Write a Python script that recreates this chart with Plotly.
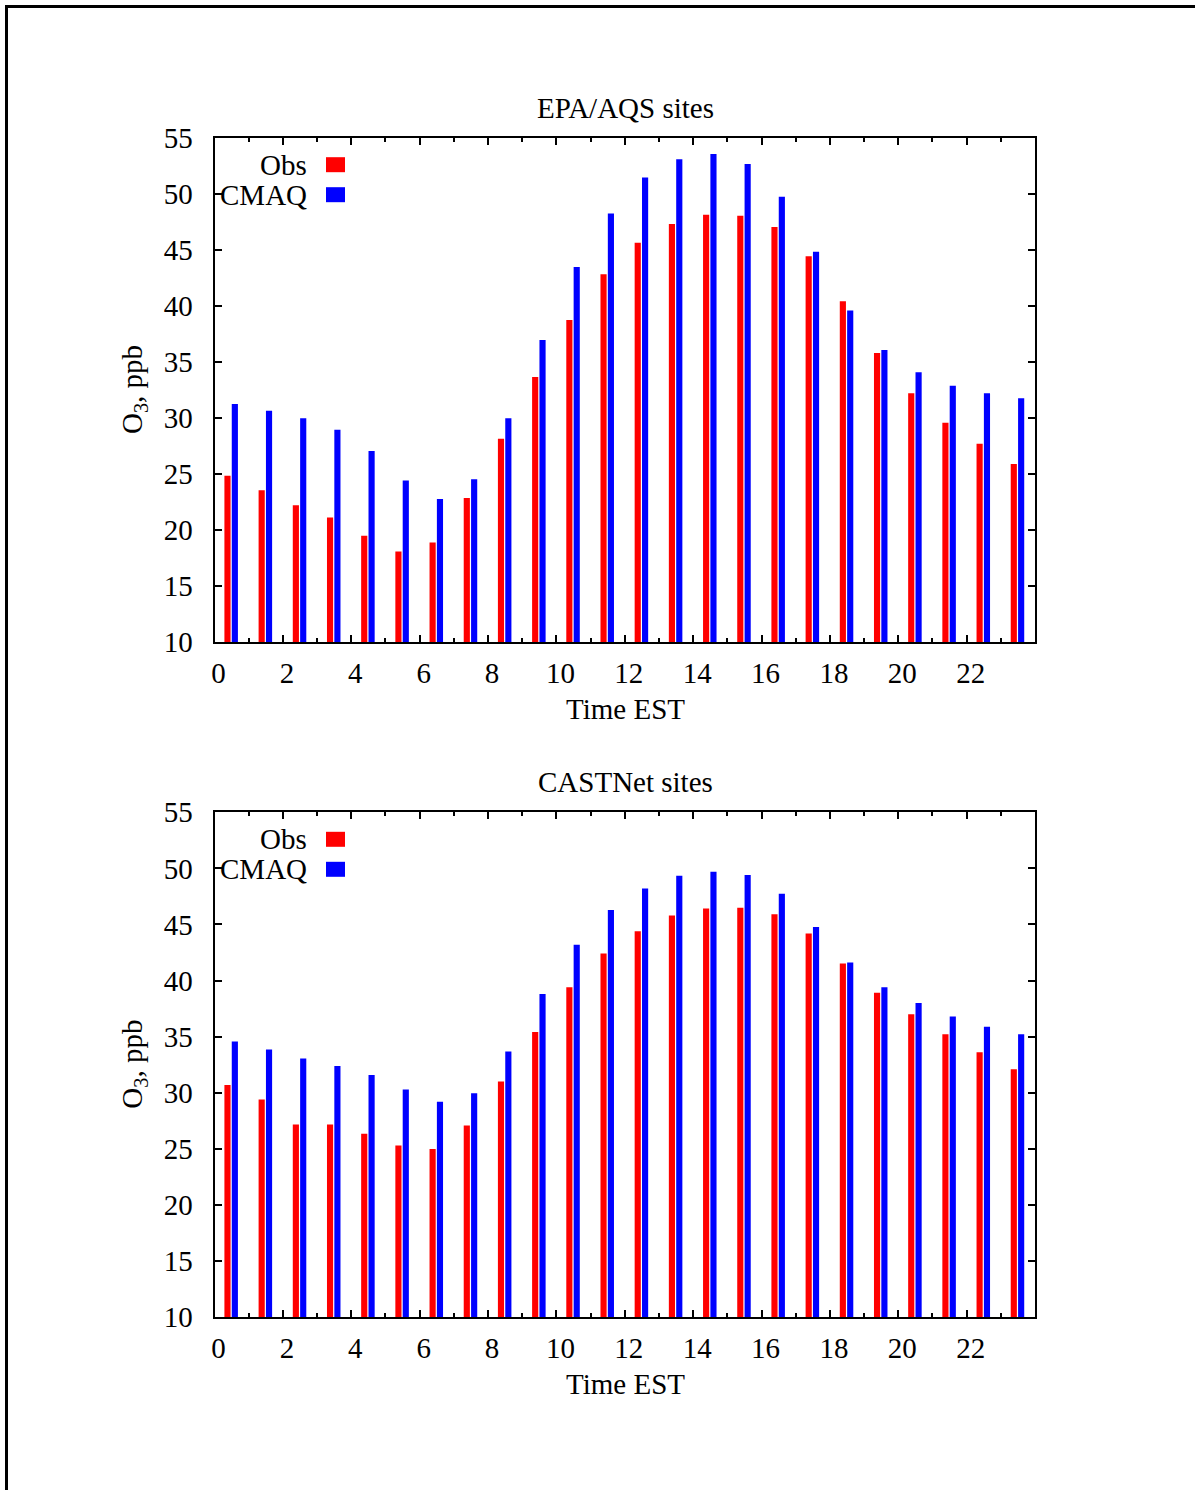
import plotly.graph_objects as go

W, H = 1195, 1490

hours = list(range(24))
tick_vals = list(range(0, 24, 2))
tick_text = [str(v) for v in tick_vals]
y_ticks = list(range(10, 56, 5))

epa_obs = [24.85, 23.57, 22.23, 21.13, 19.5, 18.1, 18.9, 22.86, 28.15, 33.66, 38.75, 42.83,
           45.63, 47.3, 48.13, 48.04, 47.03, 44.43, 40.42, 35.8, 32.2, 29.58, 27.7, 25.9]
epa_cmaq = [31.25, 30.65, 29.97, 28.96, 27.05, 24.43, 22.77, 24.55, 29.97, 36.96, 43.48, 48.24,
            51.46, 53.07, 53.54, 52.65, 49.73, 44.82, 39.58, 36.07, 34.08, 32.89, 32.2, 31.76]

cast_obs = [30.68, 29.4, 27.17, 27.17, 26.34, 25.3, 24.97, 27.08, 31.0, 35.4, 39.4, 42.42,
            44.4, 45.8, 46.42, 46.5, 45.92, 44.2, 41.52, 38.9, 37.0, 35.2, 33.6, 32.08]
cast_cmaq = [34.57, 33.86, 33.05, 32.37, 31.57, 30.29, 29.19, 29.96, 33.68, 38.8, 43.2, 46.3,
             48.2, 49.35, 49.7, 49.4, 47.74, 44.77, 41.6, 39.4, 38.0, 36.8, 35.87, 35.2]

titles = ["EPA/AQS sites", "CASTNet sites"]
series_names = ["Obs", "CMAQ"]
colors = ["#ff0000", "#0000ff"]

FONT = "Liberation Serif"
FS = 29
BASE = 10


def fx(x):
    return x / W


def fy(y):
    return 1 - y / H


panels = [
    dict(obs=epa_obs, cmaq=epa_cmaq, top=137.7, bottom=642.3, title=titles[0]),
    dict(obs=cast_obs, cmaq=cast_cmaq, top=812.3, bottom=1317.0, title=titles[1]),
]

X0, X1 = 214.5, 1035.0

fig = go.Figure()
annotations = []
shapes = []

for i, p in enumerate(panels):
    sfx = "" if i == 0 else str(i + 1)
    xa = "x" + sfx
    ya = "y" + sfx
    for name, vals, col, off in [(series_names[0], p["obs"], colors[0], 0.29),
                                 (series_names[1], p["cmaq"], colors[1], 0.505)]:
        fig.add_trace(go.Bar(
            x=hours, y=[v - BASE for v in vals], base=BASE, name=name,
            marker=dict(color=col, line=dict(width=0)),
            width=0.18, offset=off,
            showlegend=False, xaxis=xa, yaxis=ya,
        ))

    axis_common = dict(
        showline=True, linecolor="black", linewidth=2, mirror="ticks",
        ticks="inside", tickcolor="black", tickwidth=1.5,
        tickfont=dict(family=FONT, size=FS, color="black"),
        showgrid=False, zeroline=False, automargin=False,
    )
    fig.layout["xaxis" + sfx] = dict(
        axis_common, domain=[fx(X0), fx(X1)], range=[0, 24],
        tickmode="array", tickvals=tick_vals, ticktext=tick_text, ticklen=7,
        minor=dict(dtick=1, tick0=0, ticks="inside", ticklen=4, tickcolor="black", tickwidth=1.5),
        ticklabelstandoff=4, ticklabelshift=4,
        anchor=ya,
    )
    fig.layout["yaxis" + sfx] = dict(
        axis_common, domain=[fy(p["bottom"]), fy(p["top"])], range=[10, 55],
        tickmode="array", tickvals=y_ticks, ticklen=7,
        ticklabelstandoff=14,
        anchor=xa,
    )

    annotations.append(dict(text=p["title"], x=fx(625), y=fy(p["top"] - 30), xref="paper", yref="paper",
                            showarrow=False, xanchor="center", yanchor="middle",
                            font=dict(family=FONT, size=FS, color="black")))
    annotations.append(dict(text="Time EST", x=fx(625), y=fy(p["bottom"] + 67), xref="paper", yref="paper",
                            showarrow=False, xanchor="center", yanchor="middle",
                            font=dict(family=FONT, size=FS, color="black")))
    annotations.append(dict(text="O<sub>3</sub>, ppb", x=fx(134), y=fy((p["top"] + p["bottom"]) / 2),
                            xref="paper", yref="paper", textangle=-90,
                            showarrow=False, xanchor="center", yanchor="middle",
                            font=dict(family=FONT, size=FS, color="black")))
    for k, (nm, col) in enumerate(zip(series_names, colors)):
        cy = p["top"] + 27 + 30 * k
        annotations.append(dict(text=nm, x=fx(309), y=fy(cy), xref="paper", yref="paper",
                                showarrow=False, xanchor="right", yanchor="middle",
                                font=dict(family=FONT, size=FS, color="black")))
        shapes.append(dict(type="rect", xref="paper", yref="paper",
                           x0=fx(326), x1=fx(345), y0=fy(cy - 7.5), y1=fy(cy + 7.5),
                           fillcolor=col, line=dict(width=0)))

shapes.append(dict(type="line", xref="paper", yref="paper", x0=fx(5), x1=fx(1200), y0=fy(6.5), y1=fy(6.5),
                   line=dict(color="black", width=3)))
shapes.append(dict(type="line", xref="paper", yref="paper", x0=fx(6.5), x1=fx(6.5), y0=fy(5), y1=fy(1495),
                   line=dict(color="black", width=3)))

fig.update_layout(
    width=W, height=H, autosize=False,
    margin=dict(l=0, r=0, t=0, b=0, pad=0),
    paper_bgcolor="white", plot_bgcolor="white",
    template="none",
    barmode="overlay",
    annotations=annotations, shapes=shapes,
    showlegend=False,
)

fig.write_html("out.html", config={"displayModeBar": False},
               post_script="document.body.style.margin='0px';")
